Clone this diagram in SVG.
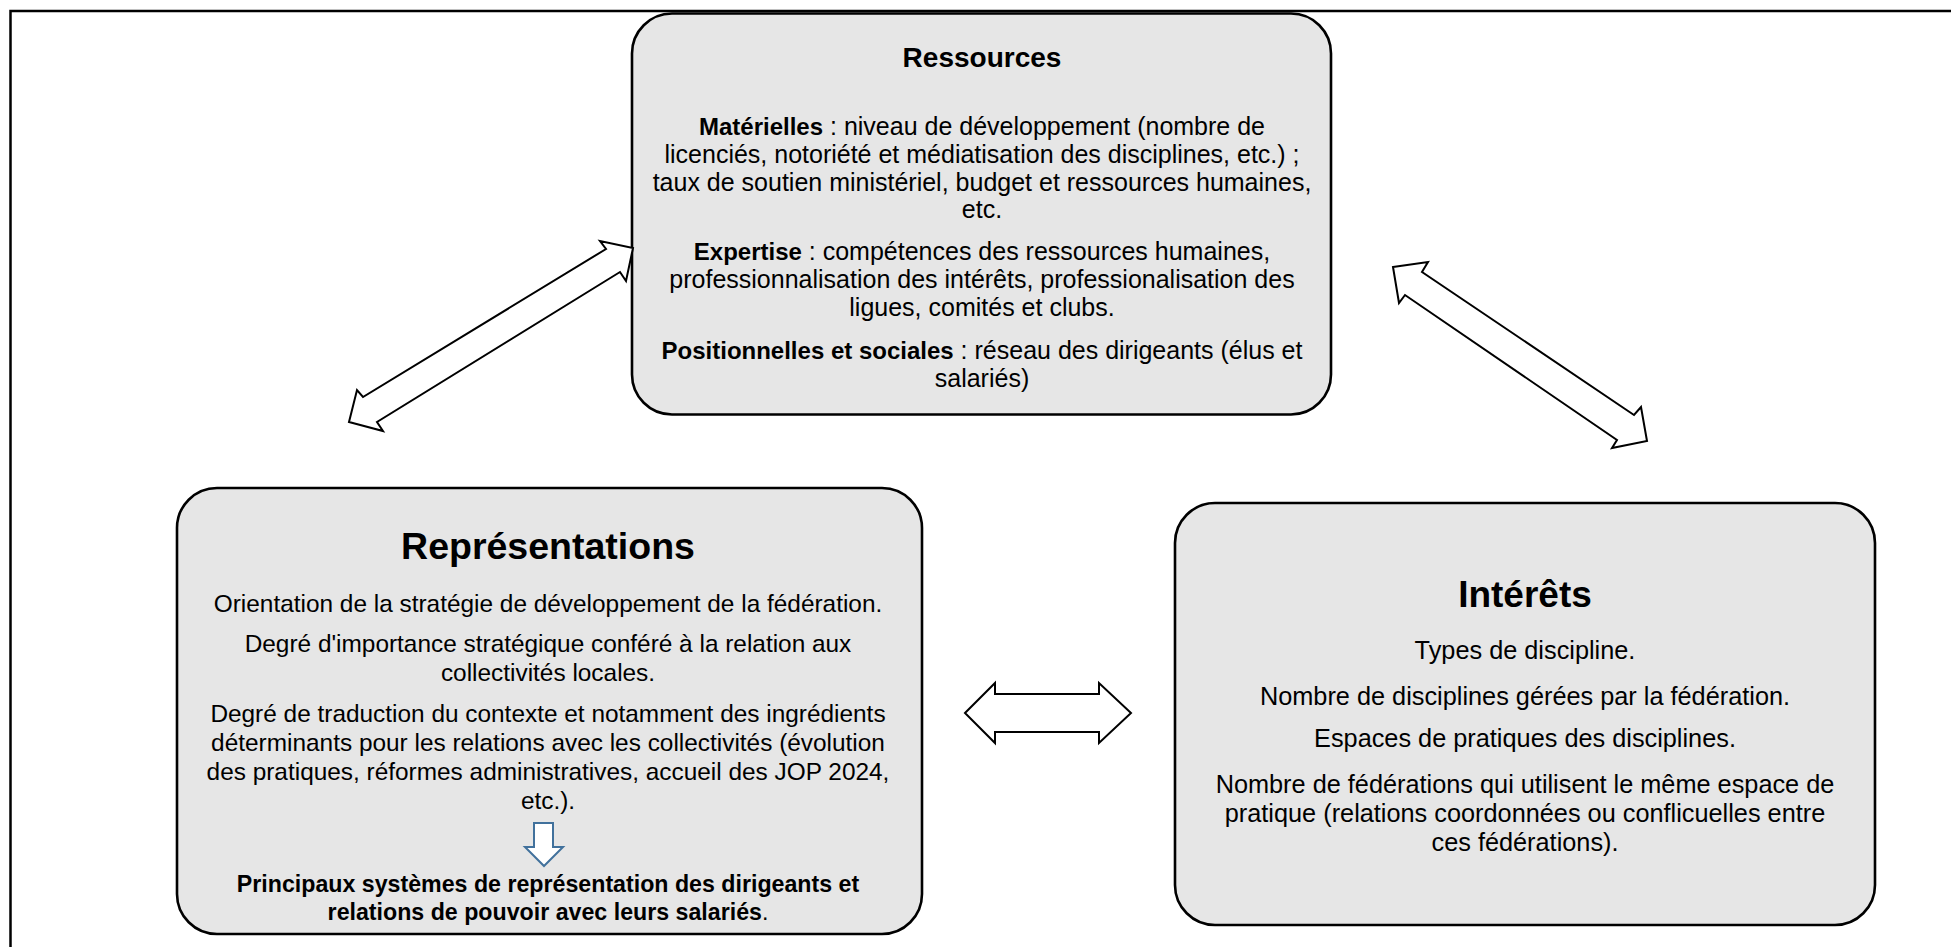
<svg xmlns="http://www.w3.org/2000/svg" width="1951" height="947" viewBox="0 0 1951 947">
<style>
.box{fill:#e6e6e6;stroke:#000;stroke-width:2.6}
.t{font-family:"Liberation Sans",Arial,sans-serif;fill:#000;text-anchor:middle}
.r{font-size:25px}
.p{font-size:24.4px}
.pb{font-size:23.2px;font-weight:bold}
.i{font-size:25.3px}
.h{font-weight:bold}
.bt{font-weight:bold;font-size:96%}
.arr{fill:#fff;stroke:#000;stroke-width:2;stroke-linejoin:miter}
</style>
<rect width="1951" height="947" fill="#fff"/>
<path d="M10.5 947 V11 H1951" fill="none" stroke="#000" stroke-width="2.5"/>
<g id="ressources">
<rect class="box" x="632" y="13.5" width="699" height="401" rx="40"/>
<text class="t h" x="982" y="67" style="font-size:28px">Ressources</text>
<text class="t r" x="982" y="135"><tspan class="bt">Matérielles</tspan> : niveau de développement (nombre de</text>
<text class="t r" x="982" y="163">licenciés, notoriété et médiatisation des disciplines, etc.) ;</text>
<text class="t r" x="982" y="191">taux de soutien ministériel, budget et ressources humaines,</text>
<text class="t r" x="982" y="218">etc.</text>
<text class="t r" x="982" y="260"><tspan class="bt">Expertise</tspan> : compétences des ressources humaines,</text>
<text class="t r" x="982" y="288">professionnalisation des intérêts, professionalisation des</text>
<text class="t r" x="982" y="316">ligues, comités et clubs.</text>
<text class="t r" x="982" y="359"><tspan class="bt">Positionnelles et sociales</tspan> : réseau des dirigeants (élus et</text>
<text class="t r" x="982" y="387">salariés)</text>
</g>
<g id="representations">
<rect class="box" x="177" y="488" width="745" height="446" rx="40"/>
<text class="t h" x="548" y="559" style="font-size:37.5px">Représentations</text>
<text class="t p" x="548" y="612">Orientation de la stratégie de développement de la fédération.</text>
<text class="t p" x="548" y="652">Degré d'importance stratégique conféré à la relation aux</text>
<text class="t p" x="548" y="681">collectivités locales.</text>
<text class="t p" x="548" y="722">Degré de traduction du contexte et notamment des ingrédients</text>
<text class="t p" x="548" y="751">déterminants pour les relations avec les collectivités (évolution</text>
<text class="t p" x="548" y="780">des pratiques, réformes administratives, accueil des JOP 2024,</text>
<text class="t p" x="548" y="809">etc.).</text>
<path d="M534 823 H553 V847 H563 L544 866 L525 847 H534 Z" fill="#fff" stroke="#41719c" stroke-width="2"/>
<text class="t pb" x="548" y="892">Principaux systèmes de représentation des dirigeants et</text>
<text class="t pb" x="548" y="920">relations de pouvoir avec leurs salariés<tspan font-weight="normal">.</tspan></text>
</g>
<g id="interets">
<rect class="box" x="1175" y="503" width="700" height="422" rx="40"/>
<text class="t h" x="1525" y="607" style="font-size:37px">Intérêts</text>
<text class="t i" x="1525" y="659">Types de discipline.</text>
<text class="t i" x="1525" y="705">Nombre de disciplines gérées par la fédération.</text>
<text class="t i" x="1525" y="747">Espaces de pratiques des disciplines.</text>
<text class="t i" x="1525" y="793">Nombre de fédérations qui utilisent le même espace de</text>
<text class="t i" x="1525" y="822">pratique (relations coordonnées ou conflicuelles entre</text>
<text class="t i" x="1525" y="851">ces fédérations).</text>
</g>
<g id="connectors">
<polygon class="arr" points="633,248 626,281 620,272 377,422 383,431 349,422 357,390 363,397 606,249 600,241"/>
<polygon class="arr" points="1393,267 1428,262 1422,272 1634,415 1641,407 1647,441 1612,448 1617,440 1405,295 1399,303"/>
<polygon class="arr" points="965,713 995,683 995,694 1099,694 1099,683 1131,713 1099,743 1099,732 995,732 995,743"/>
</g>
</svg>
